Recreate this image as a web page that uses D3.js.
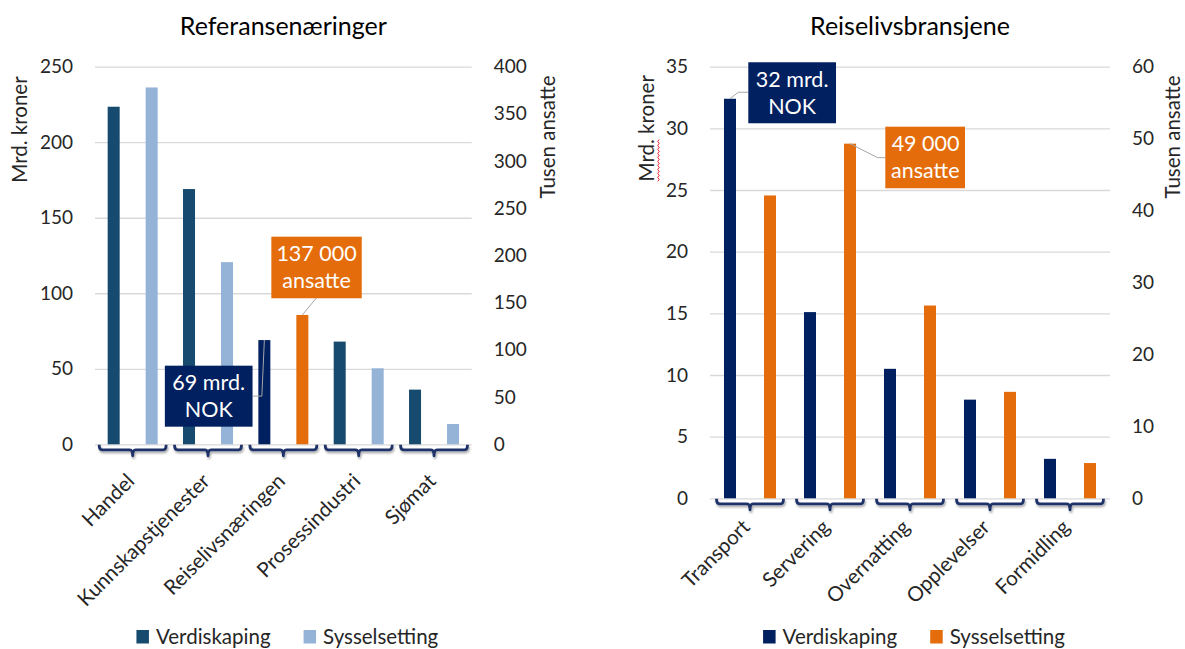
<!DOCTYPE html>
<html>
<head>
<meta charset="utf-8">
<script src="https://cdn.jsdelivr.net/npm/d3@7"></script>
<style>
  html, body { margin: 0; padding: 0; background: #fff; }
  svg { display: block; font-family: Lato, "Open Sans", sans-serif; }
</style>
</head>
<body>
<svg id="chart" width="1185" height="649"></svg>
<script>
// ---- data ----
const seriesNames = ["Verdiskaping", "Sysselsetting"];

// Referansenæringer: value added (bn NOK) and employment (thousand employees)
const refCategories = ["Handel", "Kunnskapstjenester", "Reiselivsnæringen", "Prosessindustri", "Sjømat"];
const refVerdiskaping = [223.5, 169, 69, 68, 36.2];
const refSysselsetting = [378, 193, 137, 80.5, 21.5];
const refLeftTicks = [0, 50, 100, 150, 200, 250];
const refRightTicks = [0, 50, 100, 150, 200, 250, 300, 350, 400];

// Reiselivsbransjene
const tourCategories = ["Transport", "Servering", "Overnatting", "Opplevelser", "Formidling"];
const tourVerdiskaping = [32.4, 15.1, 10.5, 8.0, 3.2];
const tourSysselsetting = [42.1, 49.3, 26.8, 14.8, 4.9];
const tourLeftTicks = [0, 5, 10, 15, 20, 25, 30, 35];
const tourRightTicks = [0, 10, 20, 30, 40, 50, 60];

// ---- styling ----
const NAVY = "#002060", ORANGE = "#e46c0a";
const STEEL = "#174a6f", SKY = "#95b3d7";
const GRID = "#d9d9d9", TEXT = "#262626";
const BRACE = "#1f3068";

const svg = d3.select("#chart");
const defs = svg.append("defs");
const shadow = defs.append("filter").attr("id", "brace-shadow")
  .attr("x", "-10%").attr("y", "-50%").attr("width", "120%").attr("height", "250%");
shadow.append("feDropShadow").attr("dx", 1).attr("dy", 2)
  .attr("stdDeviation", 1.2).attr("flood-color", "#000").attr("flood-opacity", 0.35);

const fmtThousands = v => d3.format(",")(v).replace(/,/g, " ");

function drawPanel(p) {
  const g = svg.append("g");
  const width = p.x1 - p.x0;

  const x = d3.scaleBand().domain(p.categories).range([p.x0, p.x1]);
  const xs = d3.scaleBand().domain(seriesNames).range([-p.half, p.half]).paddingInner(p.inner);
  const yL = d3.scaleLinear().domain([0, d3.max(p.leftTicks)]).range([p.yBase, p.yTop]);
  const yR = d3.scaleLinear().domain([0, d3.max(p.rightTicks)]).range([p.yBase, p.yTop]);
  const yFor = s => (s === seriesNames[0] ? yL : yR);

  // title
  g.append("text").attr("x", (p.x0 + p.x1) / 2).attr("y", p.titleY)
    .attr("text-anchor", "middle").attr("font-size", 25).attr("fill", "#000")
    .text(p.title);

  // gridlines
  const grid = g.append("g").attr("transform", `translate(${p.x0},0)`)
    .call(d3.axisLeft(yL).tickValues(p.leftTicks).tickSize(-width).tickFormat(""));
  grid.select(".domain").remove();
  grid.selectAll("line").attr("stroke", GRID).attr("stroke-width", 1.3);

  // value axes (labels only)
  const axL = g.append("g").attr("transform", `translate(${p.x0 - 22},0)`)
    .call(d3.axisLeft(yL).tickValues(p.leftTicks).tickSize(0).tickPadding(0));
  const axR = g.append("g").attr("transform", `translate(${p.x1 + 22},0)`)
    .call(d3.axisRight(yR).tickValues(p.rightTicks).tickSize(0).tickPadding(0));
  [axL, axR].forEach(a => {
    a.select(".domain").remove();
    a.selectAll("text").attr("font-size", 19).attr("fill", TEXT)
      .attr("font-family", "Lato, sans-serif");
  });

  // bars
  const rows = p.categories.map((c, i) => ({
    cat: c,
    values: [
      { s: seriesNames[0], v: p.verdi[i] },
      { s: seriesNames[1], v: p.syss[i] }
    ]
  }));
  const colorFor = (cat, s) => {
    const pal = cat === p.highlight ? p.highlightColors : p.colors;
    return s === seriesNames[0] ? pal[0] : pal[1];
  };
  const groups = g.selectAll(".cat").data(rows).join("g")
    .attr("class", "cat")
    .attr("transform", d => `translate(${x(d.cat) + x.bandwidth() / 2},0)`);
  groups.selectAll("rect").data(d => d.values.map(v => ({ ...v, cat: d.cat }))).join("rect")
    .attr("x", d => xs(d.s))
    .attr("width", xs.bandwidth())
    .attr("y", d => yFor(d.s)(d.v))
    .attr("height", d => p.yBase - yFor(d.s)(d.v))
    .attr("fill", d => colorFor(d.cat, d.s));

  // category braces under the axis
  const hw = p.braceHalf, top = p.yBase + 0.5, bar = p.yBase + 5.5, tip = p.yBase + 11.5, r = 3;
  groups.append("path")
    .attr("d", `M${-hw},${top} Q${-hw},${bar} ${-hw + r},${bar} L${-r},${bar} Q0,${bar} 0,${tip} Q0,${bar} ${r},${bar} L${hw - r},${bar} Q${hw},${bar} ${hw},${top}`)
    .attr("fill", "none").attr("stroke", BRACE).attr("stroke-width", 2.8)
    .attr("stroke-linejoin", "round").attr("filter", "url(#brace-shadow)");

  // rotated category labels
  groups.append("text")
    .attr("transform", `translate(${p.labelDx},${p.yBase + p.labelDy}) rotate(-45)`)
    .attr("text-anchor", "end").attr("dy", "0.35em")
    .attr("font-size", 20.5).attr("fill", TEXT)
    .text(d => d.cat);

  // axis titles
  const tl = g.append("text")
    .attr("transform", `translate(${p.leftTitleX},${p.leftTitleY}) rotate(-90)`)
    .attr("text-anchor", "middle").attr("dy", "0.35em")
    .attr("font-size", 20.5).attr("fill", TEXT).text("Mrd. kroner");
  g.append("text")
    .attr("transform", `translate(${p.rightTitleX},${p.rightTitleY}) rotate(-90)`)
    .attr("text-anchor", "middle").attr("dy", "0.35em")
    .attr("font-size", 20.5).attr("fill", TEXT).text("Tusen ansatte");

  if (p.spellMark) {
    // wavy underline beneath the abbreviation "Mrd."
    const node = tl.node();
    const total = node.getComputedTextLength();
    const sub = node.getSubStringLength(0, 4);
    const x0 = -total / 2, yy = 11;
    const pts = [];
    for (let t = 0; t <= sub; t += 2) pts.push([x0 + t, yy + ((t / 2) % 2 ? 1.5 : 0)]);
    g.append("path")
      .attr("transform", `translate(${p.leftTitleX},${p.leftTitleY}) rotate(-90)`)
      .attr("d", d3.line()(pts)).attr("fill", "none").attr("stroke", "#e8202a").attr("stroke-width", 1);
  }

  // legend
  const leg = g.append("g");
  let cx = 0;
  seriesNames.forEach((s, i) => {
    const item = leg.append("g").attr("transform", `translate(${cx},0)`);
    item.append("rect").attr("x", 0).attr("y", -14).attr("width", 12.5).attr("height", 13.5)
      .attr("fill", p.colors[i]);
    const t = item.append("text").attr("x", 19.5).attr("y", 0)
      .attr("font-size", 20.5).attr("fill", TEXT).text(s);
    cx += 19.5 + t.node().getComputedTextLength() + 33;
  });
  const legW = cx - 33;
  leg.attr("transform", `translate(${(p.x0 + p.x1) / 2 + 4 - legW / 2},${p.legendY})`);

  // callouts
  p.callouts.forEach(c => {
    const i = p.categories.indexOf(c.cat);
    const sv = c.series === seriesNames[0] ? p.verdi[i] : p.syss[i];
    const bx = x(c.cat) + x.bandwidth() / 2 + xs(c.series) + xs.bandwidth() / 2;
    const by = yFor(c.series)(sv);
    const lines = c.text(sv);
    const anchor = [bx + c.from[0], by + c.from[1]];
    const pts = [anchor].concat(c.path.map(([dx, dy]) => [bx + dx, by + dy]));
    g.append("path").attr("d", d3.line()(pts))
      .attr("fill", "none").attr("stroke", "#a6a6a6").attr("stroke-width", 1);
    const bxX = bx + c.box[0], bxY = by + c.box[1];
    g.append("rect").attr("x", bxX).attr("y", bxY).attr("width", c.box[2]).attr("height", c.box[3])
      .attr("fill", c.fill);
    const tx = c.align === "end" ? bxX + c.box[2] - 5.5 : bxX + c.box[2] / 2;
    const tt = g.append("text").attr("text-anchor", c.align).attr("fill", "#fff").attr("font-size", 21.5);
    lines.forEach((ln, k) => {
      tt.append("tspan").attr("x", tx).attr("y", bxY + 24.5 + k * 26.8).text(ln);
    });
  });
}

drawPanel({
  title: "Referansenæringer", titleY: 34.5,
  categories: refCategories, verdi: refVerdiskaping, syss: refSysselsetting,
  leftTicks: refLeftTicks, rightTicks: refRightTicks,
  x0: 95, x1: 471.7, yTop: 66.7, yBase: 444.3,
  half: 25, inner: 0.684, braceHalf: 33.5,
  colors: [STEEL, SKY], highlight: "Reiselivsnæringen", highlightColors: [NAVY, ORANGE],
  labelDx: -2, labelDy: 33,
  leftTitleX: 20, leftTitleY: 129.5, rightTitleX: 548, rightTitleY: 137,
  legendY: 644,
  callouts: [
    { cat: "Reiselivsnæringen", series: "Verdiskaping", fill: NAVY, align: "middle",
      text: v => [`${Math.round(v)} mrd.`, "NOK"],
      from: [0, 0], path: [[-2.5, 56], [-11.5, 56]], box: [-99.5, 25.6, 87.7, 61] },
    { cat: "Reiselivsnæringen", series: "Sysselsetting", fill: ORANGE, align: "middle",
      text: v => [`${fmtThousands(Math.round(v) * 1000)}`, "ansatte"],
      from: [0, 0], path: [[14, -17]], box: [-31, -78.3, 90.4, 61.6] }
  ]
});

drawPanel({
  title: "Reiselivsbransjene", titleY: 35,
  categories: tourCategories, verdi: tourVerdiskaping, syss: tourSysselsetting,
  leftTicks: tourLeftTicks, rightTicks: tourRightTicks,
  x0: 710, x1: 1110, yTop: 66.7, yBase: 498.3,
  half: 26, inner: 0.7, braceHalf: 33.5,
  colors: [NAVY, ORANGE], highlight: null, highlightColors: [NAVY, ORANGE],
  labelDx: -4, labelDy: 25,
  leftTitleX: 646.7, leftTitleY: 128.3, rightTitleX: 1173, rightTitleY: 137,
  spellMark: true,
  legendY: 644,
  callouts: [
    { cat: "Transport", series: "Verdiskaping", fill: NAVY, align: "middle",
      text: v => [`${Math.round(v)} mrd.`, "NOK"],
      from: [0, 0], path: [[8.3, -6.5], [18.3, -6.5]], box: [18.3, -36.5, 87.7, 61] },
    { cat: "Servering", series: "Sysselsetting", fill: ORANGE, align: "end",
      text: v => [`${fmtThousands(Math.round(v) * 1000)}`, "ansatte"],
      from: [0, 0], path: [[27.6, 14], [35.3, 14]], box: [35.3, -17, 79.7, 61.6] }
  ]
});
</script>
</body>
</html>
